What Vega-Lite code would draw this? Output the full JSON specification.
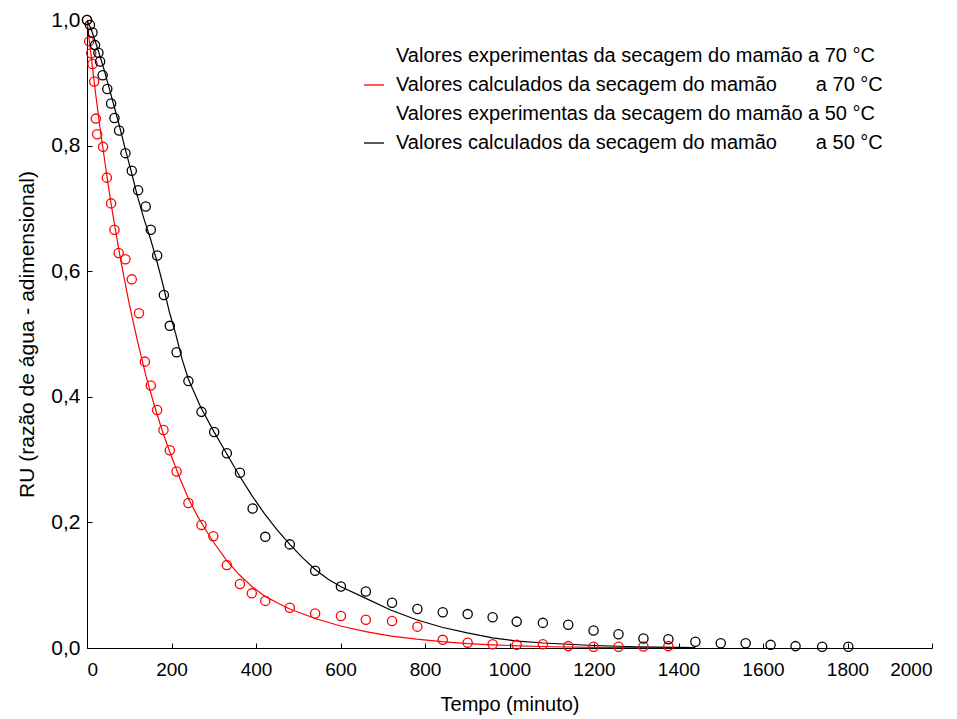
{
  "$schema": "https://vega.github.io/schema/vega-lite/v6.json",
  "width": 845,
  "height": 628,
  "autosize": {"type": "none"},
  "padding": {"left": 87, "top": 20, "right": 25, "bottom": 71},
  "background": "white",
  "config": {
    "view": {"stroke": null},
    "font": "Liberation Sans",
    "axis": {
      "grid": false,
      "domainColor": "#000000",
      "domainWidth": 1,
      "tickColor": "#000000",
      "tickWidth": 1,
      "tickSize": -5,
      "labelColor": "#000000",
      "labelFont": "Liberation Sans",
      "titleFont": "Liberation Sans",
      "titleFontWeight": "normal",
      "titleColor": "#000000"
    }
  },
  "datasets": {
    "exp": [
      {"t": 0, "ru": 1.0, "s": "e70"},
      {"t": 5, "ru": 0.966, "s": "e70"},
      {"t": 10, "ru": 0.947, "s": "e70"},
      {"t": 13, "ru": 0.93, "s": "e70"},
      {"t": 17, "ru": 0.902, "s": "e70"},
      {"t": 21, "ru": 0.843, "s": "e70"},
      {"t": 24, "ru": 0.818, "s": "e70"},
      {"t": 38, "ru": 0.798, "s": "e70"},
      {"t": 47, "ru": 0.749, "s": "e70"},
      {"t": 57, "ru": 0.708, "s": "e70"},
      {"t": 65, "ru": 0.666, "s": "e70"},
      {"t": 75, "ru": 0.629, "s": "e70"},
      {"t": 91, "ru": 0.619, "s": "e70"},
      {"t": 106, "ru": 0.587, "s": "e70"},
      {"t": 123, "ru": 0.533, "s": "e70"},
      {"t": 137, "ru": 0.456, "s": "e70"},
      {"t": 151, "ru": 0.418, "s": "e70"},
      {"t": 166, "ru": 0.379, "s": "e70"},
      {"t": 181, "ru": 0.347, "s": "e70"},
      {"t": 196, "ru": 0.315, "s": "e70"},
      {"t": 212, "ru": 0.281, "s": "e70"},
      {"t": 240, "ru": 0.231, "s": "e70"},
      {"t": 271, "ru": 0.196, "s": "e70"},
      {"t": 299, "ru": 0.178, "s": "e70"},
      {"t": 331, "ru": 0.132, "s": "e70"},
      {"t": 362, "ru": 0.102, "s": "e70"},
      {"t": 390, "ru": 0.087, "s": "e70"},
      {"t": 422, "ru": 0.075, "s": "e70"},
      {"t": 480, "ru": 0.064, "s": "e70"},
      {"t": 540, "ru": 0.055, "s": "e70"},
      {"t": 601, "ru": 0.051, "s": "e70"},
      {"t": 660, "ru": 0.045, "s": "e70"},
      {"t": 722, "ru": 0.043, "s": "e70"},
      {"t": 782, "ru": 0.034, "s": "e70"},
      {"t": 842, "ru": 0.013, "s": "e70"},
      {"t": 901, "ru": 0.0085, "s": "e70"},
      {"t": 960, "ru": 0.006, "s": "e70"},
      {"t": 1017, "ru": 0.005, "s": "e70"},
      {"t": 1079, "ru": 0.006, "s": "e70"},
      {"t": 1139, "ru": 0.003, "s": "e70"},
      {"t": 1199, "ru": 0.002, "s": "e70"},
      {"t": 1258, "ru": 0.002, "s": "e70"},
      {"t": 1317, "ru": 0.0025, "s": "e70"},
      {"t": 1376, "ru": 0.003, "s": "e70"},
      {"t": 0, "ru": 1.0, "s": "e50"},
      {"t": 7, "ru": 0.992, "s": "e50"},
      {"t": 13, "ru": 0.98, "s": "e50"},
      {"t": 19, "ru": 0.96, "s": "e50"},
      {"t": 27, "ru": 0.948, "s": "e50"},
      {"t": 31, "ru": 0.934, "s": "e50"},
      {"t": 37, "ru": 0.912, "s": "e50"},
      {"t": 48, "ru": 0.89, "s": "e50"},
      {"t": 57, "ru": 0.867, "s": "e50"},
      {"t": 65, "ru": 0.844, "s": "e50"},
      {"t": 76, "ru": 0.824, "s": "e50"},
      {"t": 91, "ru": 0.788, "s": "e50"},
      {"t": 106, "ru": 0.76, "s": "e50"},
      {"t": 121, "ru": 0.729, "s": "e50"},
      {"t": 139, "ru": 0.703, "s": "e50"},
      {"t": 151, "ru": 0.666, "s": "e50"},
      {"t": 166, "ru": 0.625, "s": "e50"},
      {"t": 182, "ru": 0.562, "s": "e50"},
      {"t": 196, "ru": 0.513, "s": "e50"},
      {"t": 212, "ru": 0.471, "s": "e50"},
      {"t": 240, "ru": 0.425, "s": "e50"},
      {"t": 271, "ru": 0.376, "s": "e50"},
      {"t": 301, "ru": 0.344, "s": "e50"},
      {"t": 331, "ru": 0.31, "s": "e50"},
      {"t": 362, "ru": 0.279, "s": "e50"},
      {"t": 392, "ru": 0.222, "s": "e50"},
      {"t": 422, "ru": 0.177, "s": "e50"},
      {"t": 480, "ru": 0.165, "s": "e50"},
      {"t": 540, "ru": 0.123, "s": "e50"},
      {"t": 601, "ru": 0.098, "s": "e50"},
      {"t": 660, "ru": 0.09, "s": "e50"},
      {"t": 722, "ru": 0.072, "s": "e50"},
      {"t": 782, "ru": 0.062, "s": "e50"},
      {"t": 842, "ru": 0.057, "s": "e50"},
      {"t": 901, "ru": 0.054, "s": "e50"},
      {"t": 960, "ru": 0.049, "s": "e50"},
      {"t": 1017, "ru": 0.042, "s": "e50"},
      {"t": 1079, "ru": 0.04, "s": "e50"},
      {"t": 1139, "ru": 0.037, "s": "e50"},
      {"t": 1199, "ru": 0.028, "s": "e50"},
      {"t": 1258, "ru": 0.022, "s": "e50"},
      {"t": 1317, "ru": 0.015, "s": "e50"},
      {"t": 1376, "ru": 0.014, "s": "e50"},
      {"t": 1440, "ru": 0.01, "s": "e50"},
      {"t": 1500, "ru": 0.0075, "s": "e50"},
      {"t": 1559, "ru": 0.0075, "s": "e50"},
      {"t": 1618, "ru": 0.005, "s": "e50"},
      {"t": 1677, "ru": 0.003, "s": "e50"},
      {"t": 1740, "ru": 0.002, "s": "e50"},
      {"t": 1802, "ru": 0.002, "s": "e50"}
    ],
    "calc": [
      {"t": 0, "ru": 1.0, "s": "c70"},
      {"t": 5, "ru": 0.97, "s": "c70"},
      {"t": 10, "ru": 0.942, "s": "c70"},
      {"t": 15, "ru": 0.913, "s": "c70"},
      {"t": 20, "ru": 0.885, "s": "c70"},
      {"t": 30, "ru": 0.832, "s": "c70"},
      {"t": 40, "ru": 0.785, "s": "c70"},
      {"t": 50, "ru": 0.738, "s": "c70"},
      {"t": 60, "ru": 0.695, "s": "c70"},
      {"t": 70, "ru": 0.655, "s": "c70"},
      {"t": 80, "ru": 0.617, "s": "c70"},
      {"t": 90, "ru": 0.582, "s": "c70"},
      {"t": 100, "ru": 0.548, "s": "c70"},
      {"t": 120, "ru": 0.487, "s": "c70"},
      {"t": 140, "ru": 0.432, "s": "c70"},
      {"t": 160, "ru": 0.385, "s": "c70"},
      {"t": 180, "ru": 0.342, "s": "c70"},
      {"t": 200, "ru": 0.305, "s": "c70"},
      {"t": 220, "ru": 0.27, "s": "c70"},
      {"t": 240, "ru": 0.238, "s": "c70"},
      {"t": 260, "ru": 0.212, "s": "c70"},
      {"t": 280, "ru": 0.189, "s": "c70"},
      {"t": 300, "ru": 0.168, "s": "c70"},
      {"t": 330, "ru": 0.14, "s": "c70"},
      {"t": 360, "ru": 0.117, "s": "c70"},
      {"t": 390, "ru": 0.098, "s": "c70"},
      {"t": 420, "ru": 0.083, "s": "c70"},
      {"t": 450, "ru": 0.072, "s": "c70"},
      {"t": 480, "ru": 0.062, "s": "c70"},
      {"t": 540, "ru": 0.047, "s": "c70"},
      {"t": 600, "ru": 0.035, "s": "c70"},
      {"t": 660, "ru": 0.026, "s": "c70"},
      {"t": 720, "ru": 0.019, "s": "c70"},
      {"t": 780, "ru": 0.014, "s": "c70"},
      {"t": 840, "ru": 0.01, "s": "c70"},
      {"t": 900, "ru": 0.007, "s": "c70"},
      {"t": 960, "ru": 0.005, "s": "c70"},
      {"t": 1020, "ru": 0.0035, "s": "c70"},
      {"t": 1100, "ru": 0.002, "s": "c70"},
      {"t": 1200, "ru": 0.001, "s": "c70"},
      {"t": 1300, "ru": 0.0005, "s": "c70"},
      {"t": 1380, "ru": 0.0002, "s": "c70"},
      {"t": 0, "ru": 1.0, "s": "c50"},
      {"t": 10, "ru": 0.985, "s": "c50"},
      {"t": 20, "ru": 0.965, "s": "c50"},
      {"t": 30, "ru": 0.944, "s": "c50"},
      {"t": 40, "ru": 0.922, "s": "c50"},
      {"t": 50, "ru": 0.898, "s": "c50"},
      {"t": 60, "ru": 0.873, "s": "c50"},
      {"t": 75, "ru": 0.836, "s": "c50"},
      {"t": 90, "ru": 0.796, "s": "c50"},
      {"t": 105, "ru": 0.758, "s": "c50"},
      {"t": 120, "ru": 0.718, "s": "c50"},
      {"t": 135, "ru": 0.683, "s": "c50"},
      {"t": 150, "ru": 0.652, "s": "c50"},
      {"t": 165, "ru": 0.617, "s": "c50"},
      {"t": 180, "ru": 0.578, "s": "c50"},
      {"t": 195, "ru": 0.535, "s": "c50"},
      {"t": 210, "ru": 0.5, "s": "c50"},
      {"t": 225, "ru": 0.46, "s": "c50"},
      {"t": 240, "ru": 0.428, "s": "c50"},
      {"t": 270, "ru": 0.382, "s": "c50"},
      {"t": 300, "ru": 0.345, "s": "c50"},
      {"t": 330, "ru": 0.31, "s": "c50"},
      {"t": 360, "ru": 0.275, "s": "c50"},
      {"t": 390, "ru": 0.243, "s": "c50"},
      {"t": 420, "ru": 0.214, "s": "c50"},
      {"t": 450, "ru": 0.188, "s": "c50"},
      {"t": 480, "ru": 0.165, "s": "c50"},
      {"t": 510, "ru": 0.144, "s": "c50"},
      {"t": 540, "ru": 0.125, "s": "c50"},
      {"t": 570, "ru": 0.11, "s": "c50"},
      {"t": 600, "ru": 0.098, "s": "c50"},
      {"t": 660, "ru": 0.079, "s": "c50"},
      {"t": 720, "ru": 0.06, "s": "c50"},
      {"t": 780, "ru": 0.045, "s": "c50"},
      {"t": 840, "ru": 0.033, "s": "c50"},
      {"t": 900, "ru": 0.024, "s": "c50"},
      {"t": 960, "ru": 0.016, "s": "c50"},
      {"t": 1020, "ru": 0.011, "s": "c50"},
      {"t": 1080, "ru": 0.008, "s": "c50"},
      {"t": 1140, "ru": 0.006, "s": "c50"},
      {"t": 1200, "ru": 0.004, "s": "c50"},
      {"t": 1300, "ru": 0.002, "s": "c50"},
      {"t": 1440, "ru": 0.0005, "s": "c50"}
    ]
  },
  "encoding": {
    "x": {
      "field": "t",
      "type": "quantitative",
      "scale": {"domain": [0, 2000], "nice": false, "zero": false},
      "axis": {
        "title": "Tempo (minuto)",
        "values": [0, 200, 400, 600, 800, 1000, 1200, 1400, 1600, 1800, 2000],
        "format": "d",
        "labelFontSize": 19,
        "titleFontSize": 20,
        "labelPadding": 17,
        "titlePadding": 15
      }
    },
    "y": {
      "field": "ru",
      "type": "quantitative",
      "scale": {"domain": [0, 1], "nice": false},
      "axis": {
        "title": "RU (razão de água - adimensional)",
        "values": [0, 0.2, 0.4, 0.6, 0.8, 1.0],
        "format": ".1f",
        "labelExpr": "replace(datum.label, '.', ',')",
        "labelFontSize": 21,
        "titleFontSize": 21,
        "labelPadding": 12,
        "titlePadding": 13
      }
    },
    "color": {
      "field": "s",
      "type": "nominal",
      "scale": {
        "domain": ["e70", "c70", "e50", "c50"],
        "range": ["#ff0000", "#ff0000", "#000000", "#000000"]
      },
      "legend": {
        "title": null,
        "orient": "none",
        "legendX": 276,
        "legendY": 25,
        "symbolType": "stroke",
        "symbolSize": 400,
        "symbolStrokeWidth": 1.3,
        "labelFontSize": 20,
        "labelFont": "Liberation Sans",
        "labelColor": "#000000",
        "labelOffset": 11,
        "labelLimit": 700,
        "rowPadding": 8,
        "labelExpr": "datum.value == 'e70' ? 'Valores experimentas da secagem do mamão a 70 °C' : datum.value == 'c70' ? 'Valores calculados da secagem do mamão\u00a0\u00a0\u00a0\u00a0\u00a0\u00a0\u00a0a 70 °C' : datum.value == 'e50' ? 'Valores experimentas da secagem do mamão a 50 °C' : 'Valores calculados da secagem do mamão\u00a0\u00a0\u00a0\u00a0\u00a0\u00a0\u00a0a 50 °C'",
        "encode": {
          "symbols": {
            "update": {
              "opacity": {"signal": "datum.value == 'c70' || datum.value == 'c50' ? 1 : 0"}
            }
          }
        }
      }
    }
  },
  "layer": [
    {
      "data": {"name": "calc"},
      "mark": {"type": "line", "strokeWidth": 1.2, "clip": true}
    },
    {
      "data": {"name": "exp"},
      "mark": {"type": "point", "size": 85, "strokeWidth": 1.3, "filled": false, "opacity": 1}
    }
  ]
}
